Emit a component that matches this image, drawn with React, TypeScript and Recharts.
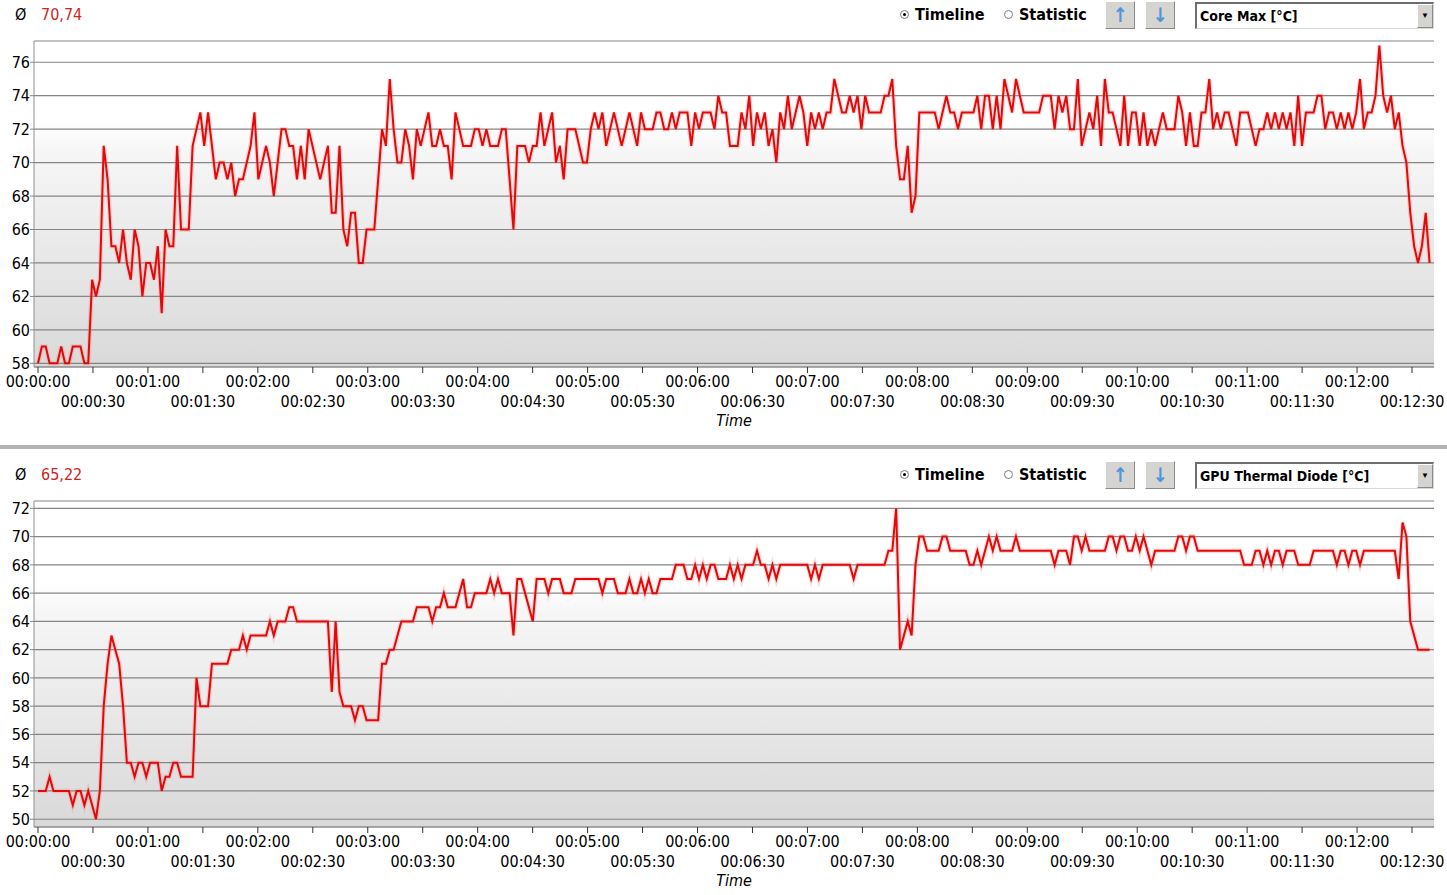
import { LineChart, Line, XAxis, YAxis, CartesianGrid } from 'recharts'

// logger writes one row roughly every 2.11 s
const SAMPLE_INTERVAL = 2.11

const TIME_LABELS = [
  '00:00:00', '00:00:30', '00:01:00', '00:01:30', '00:02:00', '00:02:30',
  '00:03:00', '00:03:30', '00:04:00', '00:04:30', '00:05:00', '00:05:30',
  '00:06:00', '00:06:30', '00:07:00', '00:07:30', '00:08:00', '00:08:30',
  '00:09:00', '00:09:30', '00:10:00', '00:10:30', '00:11:00', '00:11:30',
  '00:12:00', '00:12:30',
]

const CORE_MAX = [
  58, 59, 59, 58, 58, 58, 59, 58, 58, 59, 59, 59, 58, 58, 63, 62, 63, 71, 69, 65,
  65, 64, 66, 64, 63, 66, 65, 62, 64, 64, 63, 65, 61, 66, 65, 65, 71, 66, 66, 66,
  71, 72, 73, 71, 73, 71, 69, 70, 70, 69, 70, 68, 69, 69, 70, 71, 73, 69, 70, 71,
  70, 68, 70, 72, 72, 71, 71, 69, 71, 69, 72, 71, 70,
  69, 70, 71, 67, 67, 71, 66, 65, 67, 67, 64, 64, 66, 66, 66, 69, 72, 71, 75, 72,
  70, 70, 72, 71, 69, 72, 71, 72, 73, 71, 71, 72, 71, 71, 69, 73, 72, 71, 71, 71,
  72, 72, 71, 72, 71, 71, 71, 72, 72, 69, 66, 71, 71, 71, 70, 71, 71, 73, 71, 72,
  73, 70, 71, 69, 72, 72, 72, 71, 70, 70, 72, 73, 72,
  73, 71, 72, 73, 72, 71, 72, 73, 72, 71, 73, 72, 72, 72, 73, 73, 72, 72, 73, 72,
  73, 73, 73, 71, 73, 72, 73, 73, 73, 72, 74, 73, 73, 71, 71, 71, 73, 72, 74, 71,
  73, 72, 73, 71, 72, 70, 73, 72, 74, 72, 73, 74, 73, 71, 73, 72, 73, 72, 73, 73,
  75, 74, 73, 73, 74, 73, 74, 72, 74, 73, 73, 73,
  73, 74, 74, 75, 71, 69, 69, 71, 67, 68, 73, 73, 73, 73, 73, 72, 73, 74, 73, 73,
  72, 73, 73, 73, 73, 74, 72, 74, 74, 72, 74, 72, 75, 74, 73, 75, 74, 73, 73, 73,
  73, 73, 74, 74, 74, 72, 74, 73, 74, 72, 72, 75, 71, 72, 73, 72, 74, 71, 75, 73,
  73, 72, 71, 74, 71, 73, 73, 71, 73, 71, 72, 71, 72,
  73, 72, 72, 72, 74, 73, 71, 73, 71, 71, 73, 73, 75, 72, 73, 72, 73, 73, 72, 71,
  73, 73, 73, 72, 71, 72, 72, 73, 72, 73, 72, 73, 72, 73, 71, 74, 71, 73, 73, 73,
  74, 74, 72, 73, 73, 72, 73, 72, 73, 72, 73, 75, 72, 73, 73, 74, 77, 74, 73, 74,
  72, 73, 71, 70, 67, 65, 64, 65, 67, 64,
]

const GPU_DIODE = [
  52, 52, 52, 53, 52, 52, 52, 52, 52, 51, 52, 52, 51, 52, 51, 50, 52, 58, 61, 63,
  62, 61, 58, 54, 54, 53, 54, 54, 53, 54, 54, 54, 52, 53, 53, 54, 54, 53, 53, 53,
  53, 60, 58, 58, 58, 61, 61, 61, 61, 61, 62, 62, 62, 63, 62, 63, 63, 63, 63, 63,
  64, 63, 64, 64, 64, 65, 65, 64, 64, 64, 64, 64, 64,
  64, 64, 64, 59, 64, 59, 58, 58, 58, 57, 58, 58, 57, 57, 57, 57, 61, 61, 62, 62,
  63, 64, 64, 64, 64, 65, 65, 65, 65, 64, 65, 65, 66, 65, 65, 65, 66, 67, 65, 65,
  66, 66, 66, 66, 67, 66, 67, 66, 66, 66, 63, 67, 67, 66, 65, 64, 67, 67, 67, 66,
  67, 67, 67, 66, 66, 66, 67, 67, 67, 67, 67, 67, 67,
  66, 67, 67, 67, 66, 66, 66, 67, 66, 66, 67, 66, 67, 66, 66, 67, 67, 67, 67, 68,
  68, 68, 67, 67, 68, 67, 68, 67, 68, 68, 67, 67, 67, 68, 67, 68, 67, 68, 68, 68,
  69, 68, 68, 67, 68, 67, 68, 68, 68, 68, 68, 68, 68, 68, 67, 68, 67, 68, 68, 68,
  68, 68, 68, 68, 68, 67, 68, 68, 68, 68, 68, 68,
  68, 68, 69, 69, 72, 62, 63, 64, 63, 68, 70, 70, 69, 69, 69, 69, 70, 70, 69, 69,
  69, 69, 69, 68, 68, 69, 68, 69, 70, 69, 70, 69, 69, 69, 69, 70, 69, 69, 69, 69,
  69, 69, 69, 69, 69, 68, 69, 69, 69, 68, 70, 70, 69, 70, 69, 69, 69, 69, 69, 70,
  70, 69, 70, 70, 69, 69, 70, 69, 70, 69, 68, 69, 69,
  69, 69, 69, 69, 70, 70, 69, 70, 70, 69, 69, 69, 69, 69, 69, 69, 69, 69, 69, 69,
  69, 68, 68, 68, 69, 69, 68, 69, 68, 69, 69, 68, 69, 69, 69, 68, 68, 68, 68, 69,
  69, 69, 69, 69, 69, 68, 69, 69, 68, 69, 69, 68, 69, 69, 69, 69, 69, 69, 69, 69,
  69, 67, 71, 70, 64, 63, 62, 62, 62, 62,
]

const CORE_MAX_TICKS = [58, 60, 62, 64, 66, 68, 70, 72, 74, 76]
const GPU_DIODE_TICKS = [50, 52, 54, 56, 58, 60, 62, 64, 66, 68, 70, 72]

const CORE_MAX_RANGE: [number, number] = [57.78, 77.27]
const GPU_DIODE_RANGE: [number, number] = [49.45, 72.52]
const TIME_RANGE: [number, number] = [-2.18, 762]

const FONT = "'DejaVu Sans Condensed', 'Liberation Sans', sans-serif"
const LINE_RED = '#e10a0a'
const GRID_GRAY = '#858585'

const toSeconds = (label: string) => {
  const [h, m, s] = label.split(':').map(Number)
  return h * 3600 + m * 60 + s
}
const TICK_SECONDS = TIME_LABELS.map(toSeconds)
const labelFor = (sec: number) => TIME_LABELS[TICK_SECONDS.indexOf(sec)] ?? ''

function TimeTick(props: { x?: number; y?: number; payload?: { value: number } }) {
  const { x = 0, y = 0, payload } = props
  const sec = payload?.value ?? 0
  const second = Math.round(sec / 30) % 2 === 1
  return (
    <text
      x={x}
      y={y + (second ? 34 : 14)}
      textAnchor="middle"
      fontSize={16}
      fontFamily={FONT}
      fill="#000"
    >
      {labelFor(sec)}
    </text>
  )
}

function Radio({ left, checked }: { left: number; checked?: boolean }) {
  return (
    <div
      style={{
        position: 'absolute', left, top: 10, width: 9, height: 9,
        borderRadius: '50%', border: '1px solid #7d7d7d', background: '#fff',
        boxSizing: 'border-box',
      }}
    >
      {checked && (
        <div style={{
          position: 'absolute', left: 2, top: 2, width: 3, height: 3,
          borderRadius: '50%', background: '#000',
        }} />
      )}
    </div>
  )
}

function ArrowButton({ left, glyph }: { left: number; glyph: string }) {
  return (
    <div
      style={{
        position: 'absolute', left, top: 1, width: 30, height: 28,
        boxSizing: 'border-box', background: '#d6d4d0',
        borderTop: '1px solid #fff', borderLeft: '1px solid #fff',
        borderRight: '1px solid #8a8a8a', borderBottom: '1px solid #8a8a8a',
        textAlign: 'center', lineHeight: '26px', fontSize: 20, fontWeight: 700,
        color: '#4f95dc', fontFamily: FONT,
      }}
    >
      {glyph}
    </div>
  )
}

interface PanelProps {
  top: number
  id: string
  average: string
  sensor: string
  values: number[]
  ticks: number[]
  range: [number, number]
  separator?: boolean
}

function Panel({ top, id, average, sensor, values, ticks, range, separator }: PanelProps) {
  const data = values.map((v, i) => ({ t: i * SAMPLE_INTERVAL, v }))
  const textBase = { position: 'absolute' as const, fontFamily: FONT, whiteSpace: 'nowrap' as const }

  return (
    <div style={{ position: 'absolute', left: 0, top, width: 1447, height: 460 }}>
      {/* header row */}
      <div style={{ ...textBase, left: 15, top: 5, fontSize: 16, lineHeight: '20px', color: '#000' }}>Ø</div>
      <div style={{ ...textBase, left: 41, top: 5, fontSize: 16, lineHeight: '20px', color: '#cc2424' }}>{average}</div>

      <Radio left={900} checked />
      <div style={{ ...textBase, left: 915, top: 5, fontSize: 16, fontWeight: 700, lineHeight: '20px' }}>Timeline</div>
      <Radio left={1004} />
      <div style={{ ...textBase, left: 1019, top: 5, fontSize: 16, fontWeight: 700, lineHeight: '20px' }}>Statistic</div>

      <ArrowButton left={1105} glyph="↑" />
      <ArrowButton left={1145} glyph="↓" />

      <div
        style={{
          position: 'absolute', left: 1195, top: 2, width: 239, height: 27,
          boxSizing: 'border-box', background: '#fff',
          borderTop: '2px solid #6e6e6e', borderLeft: '2px solid #6e6e6e',
          borderRight: '1px solid #d8d8d8', borderBottom: '1px solid #d8d8d8',
        }}
      >
        <div style={{ ...textBase, left: 3, top: 2, fontSize: 14, fontWeight: 700, lineHeight: '20px' }}>{sensor}</div>
        <div
          style={{
            position: 'absolute', right: 0, top: 0, width: 16, height: 24,
            boxSizing: 'border-box', background: '#d6d4d0',
            borderTop: '1px solid #fff', borderLeft: '1px solid #fff',
            borderRight: '1px solid #8a8a8a', borderBottom: '1px solid #8a8a8a',
            fontSize: 8, lineHeight: '22px', textAlign: 'center', color: '#000',
          }}
        >
          ▼
        </div>
      </div>

      <div style={{ position: 'absolute', left: 0, top: 0 }}>
        <LineChart
          width={1447}
          height={440}
          data={data}
          margin={{ top: 41, right: 13, bottom: 0, left: 0 }}
        >
          <defs>
            <linearGradient id={`plotBg-${id}`} x1="0" y1="0" x2="0" y2="1">
              <stop offset="0%" stopColor="#ffffff" />
              <stop offset="25%" stopColor="#ffffff" />
              <stop offset="34%" stopColor="#f6f6f6" />
              <stop offset="100%" stopColor="#d9d9d9" />
            </linearGradient>
          </defs>
          <CartesianGrid
            vertical={false}
            stroke={GRID_GRAY}
            strokeWidth={1.2}
            fill={`url(#plotBg-${id})`}
            fillOpacity={1}
          />
          <XAxis
            dataKey="t"
            type="number"
            domain={TIME_RANGE}
            allowDataOverflow
            ticks={TICK_SECONDS}
            interval={0}
            height={73}
            tickSize={6}
            tickMargin={0}
            axisLine={{ stroke: '#8f8f8f' }}
            tickLine={{ stroke: '#333' }}
            tick={(p: any) => <TimeTick {...p} />}
          />
          <XAxis
            xAxisId="frame"
            orientation="top"
            type="number"
            domain={TIME_RANGE}
            height={0}
            tick={false}
            tickLine={false}
            axisLine={{ stroke: '#8f8f8f' }}
          />
          <YAxis
            type="number"
            domain={range}
            allowDataOverflow
            ticks={ticks}
            interval={0}
            width={34}
            tickSize={4}
            tickMargin={0}
            axisLine={{ stroke: '#8f8f8f' }}
            tickLine={{ stroke: GRID_GRAY }}
            tick={{ fontSize: 16, fill: '#000', fontFamily: FONT }}
          />
          <YAxis
            yAxisId="frame"
            orientation="right"
            width={0}
            tick={false}
            tickLine={false}
            axisLine={{ stroke: '#8f8f8f' }}
          />
          <Line
            dataKey="v"
            type="linear"
            stroke="#ff8080"
            strokeOpacity={0.3}
            strokeWidth={4.5}
            dot={false}
            activeDot={false}
            isAnimationActive={false}
          />
          <Line
            dataKey="v"
            type="linear"
            stroke={LINE_RED}
            strokeWidth={2}
            dot={false}
            activeDot={false}
            isAnimationActive={false}
          />
        </LineChart>
      </div>

      <div style={{ ...textBase, left: 634, width: 200, textAlign: 'center', top: 411, fontSize: 16, fontStyle: 'italic', lineHeight: '20px' }}>
        Time
      </div>

      {separator && (
        <div style={{ position: 'absolute', left: 0, top: 445, width: 1447, height: 4, background: '#b3b3b3' }} />
      )}
    </div>
  )
}

export default function App() {
  return (
    <div style={{ position: 'relative', width: 1447, height: 895, background: '#fff', overflow: 'hidden' }}>
      <style>{'body { margin: 0; }'}</style>
      <Panel
        top={0}
        id="core"
        average="70,74"
        sensor="Core Max [°C]"
        values={CORE_MAX}
        ticks={CORE_MAX_TICKS}
        range={CORE_MAX_RANGE}
        separator
      />
      <Panel
        top={460}
        id="gpu"
        average="65,22"
        sensor="GPU Thermal Diode [°C]"
        values={GPU_DIODE}
        ticks={GPU_DIODE_TICKS}
        range={GPU_DIODE_RANGE}
      />
    </div>
  )
}
